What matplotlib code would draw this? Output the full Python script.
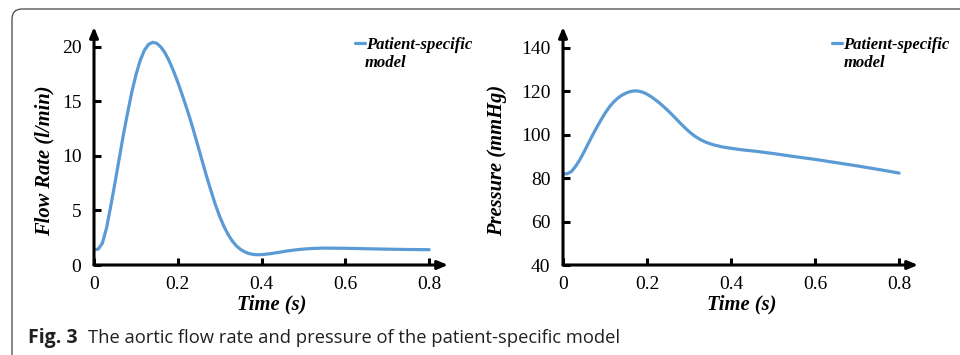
import numpy as np
import matplotlib.pyplot as plt
from matplotlib.patches import FancyBboxPatch
from matplotlib.transforms import IdentityTransform

# values
time_flow = [0.0, 0.01, 0.02, 0.03, 0.04, 0.05, 0.06, 0.07, 0.08, 0.09, 0.10,
             0.11, 0.12, 0.13, 0.14, 0.15, 0.16, 0.17, 0.18, 0.19, 0.20, 0.21,
             0.22, 0.23, 0.24, 0.25, 0.26, 0.27, 0.28, 0.29, 0.30, 0.31, 0.32,
             0.33, 0.34, 0.35, 0.36, 0.37, 0.38, 0.39, 0.40, 0.42, 0.44, 0.46,
             0.48, 0.50, 0.52, 0.55, 0.60, 0.65, 0.70, 0.75, 0.80]
flow_rate = [1.4, 1.45, 2.0, 3.4, 5.4, 7.5, 9.7, 11.9, 13.9, 15.8, 17.4,
             18.7, 19.65, 20.2, 20.4, 20.3, 19.95, 19.4, 18.65, 17.75, 16.75, 15.65,
             14.5, 13.3, 12.0, 10.65, 9.3, 7.95, 6.7, 5.5, 4.45, 3.55, 2.8,
             2.2, 1.75, 1.42, 1.2, 1.05, 0.97, 0.94, 0.95, 1.03, 1.15, 1.28,
             1.38, 1.46, 1.51, 1.55, 1.53, 1.49, 1.45, 1.42, 1.4]

time_pres = [0.0, 0.01, 0.02, 0.03, 0.04, 0.05, 0.06, 0.07, 0.08, 0.09, 0.10,
             0.11, 0.12, 0.13, 0.14, 0.15, 0.16, 0.17, 0.18, 0.19, 0.20, 0.21,
             0.22, 0.23, 0.24, 0.25, 0.26, 0.27, 0.28, 0.29, 0.30, 0.31, 0.32,
             0.33, 0.34, 0.35, 0.36, 0.38, 0.40, 0.43, 0.46, 0.50, 0.55, 0.60,
             0.65, 0.70, 0.75, 0.80]
pressure = [81.9, 82.0, 83.0, 85.4, 88.4, 92.0, 95.8, 99.6, 103.2, 106.6, 109.8,
            112.6, 114.9, 116.7, 118.1, 119.1, 119.8, 120.1, 120.0, 119.5, 118.6, 117.4,
            116.0, 114.5, 112.8, 111.0, 109.1, 107.1, 105.1, 103.2, 101.4, 99.8, 98.5,
            97.4, 96.5, 95.8, 95.2, 94.3, 93.7, 92.9, 92.3, 91.3, 89.9, 88.6,
            87.1, 85.6, 84.0, 82.3]

x_ticks = [0, 0.2, 0.4, 0.6, 0.8]
x_tick_labels = ["0", "0.2", "0.4", "0.6", "0.8"]
flow_ticks = [0, 5, 10, 15, 20]
pres_ticks = [40, 60, 80, 100, 120, 140]

LINE_COLOR = "#5B9BD5"
SERIF = "Liberation Serif"
LABEL_FONT = dict(fontfamily=SERIF, fontsize=14.8, fontweight="bold", fontstyle="italic")
LEGEND_FONT = dict(family=SERIF, size=12, weight="bold", style="italic")

fig = plt.figure(figsize=(9.6, 3.55), dpi=100)

# rounded frame of the figure box
frame = FancyBboxPatch((12, -40), 1000, 386, boxstyle="round,pad=0,rounding_size=10",
                       transform=IdentityTransform(), facecolor="none",
                       edgecolor="#444444", lw=0.9)
fig.patches.append(frame)


def style_axes(ax, ylim, yticks, ylabel, ylab_x, leg_x, model_x):
    ax.set_xlim(0, 0.845)
    ax.set_ylim(*ylim)
    for s in ax.spines.values():
        s.set_visible(False)
    ax.set_xticks(x_ticks)
    ax.set_xticklabels(x_tick_labels)
    ax.set_yticks(yticks)
    ax.tick_params(direction="in", length=5, width=2.2, labelsize=14)
    ax.tick_params(axis="x", pad=8)
    ax.tick_params(axis="y", pad=9)
    for lab in ax.get_xticklabels() + ax.get_yticklabels():
        lab.set_fontfamily(SERIF)
    # axis lines with arrow heads
    arrow = dict(arrowstyle="-|>,head_length=0.6,head_width=0.25",
                 lw=2.2, color="black", shrinkA=0, shrinkB=0)
    ax.annotate("", xy=(0, 1.0), xytext=(0, 0), xycoords="axes fraction", arrowprops=arrow)
    ax.annotate("", xy=(1.0, 0), xytext=(0, 0), xycoords="axes fraction", arrowprops=arrow)
    ax.set_xlabel("Time (s)", **LABEL_FONT)
    ax.xaxis.set_label_coords(0.503, -0.168)
    ax.xaxis.label.set_va("center")
    ax.set_ylabel(ylabel, **LABEL_FONT)
    ax.yaxis.set_label_coords(ylab_x, 0.44)
    ax.yaxis.label.set_va("center")
    ax.legend(loc="upper left", bbox_to_anchor=(leg_x, 0.958), frameon=False,
              handlelength=0.6, handletextpad=0.05, borderpad=0, borderaxespad=0,
              prop=LEGEND_FONT)
    ax.text(model_x, 0.831, "model", transform=ax.transAxes, fontfamily=SERIF,
            fontsize=12, fontweight="bold", fontstyle="italic", va="baseline")


ax1 = fig.add_axes([94 / 960, 90 / 355, 354 / 960, 238 / 355])
ax1.plot(time_flow, flow_rate, color=LINE_COLOR, lw=2.3, solid_joinstyle="round",
         solid_capstyle="round", label="Patient-specific")
style_axes(ax1, (0, 21.8), flow_ticks, "Flow Rate (l/min)", -0.141, 0.738, 0.766)

ax2 = fig.add_axes([563 / 960, 90 / 355, 355 / 960, 238 / 355])
ax2.plot(time_pres, pressure, color=LINE_COLOR, lw=2.3, solid_joinstyle="round",
         solid_capstyle="round", label="Patient-specific")
style_axes(ax2, (40, 149.5), pres_ticks, "Pressure (mmHg)", -0.186, 0.758, 0.79)

# caption
fig.text(28 / 960, 12 / 355, "Fig. 3", fontfamily="Open Sans", fontweight="bold",
         fontsize=14, va="baseline", color="#231f20")
fig.text(88 / 960, 12 / 355, "The aortic flow rate and pressure of the patient-specific model",
         fontfamily="Open Sans", fontsize=13.25, va="baseline", color="#231f20")

fig.savefig("out.png", dpi=100)
